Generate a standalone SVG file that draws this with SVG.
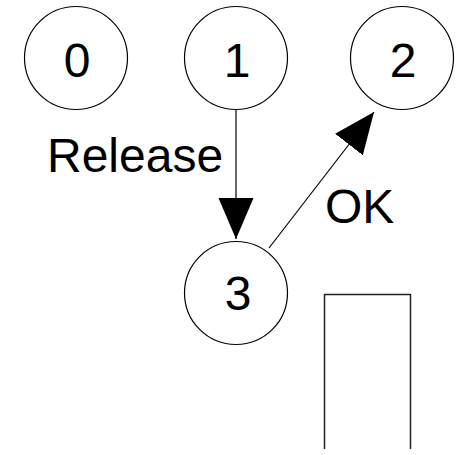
<svg xmlns="http://www.w3.org/2000/svg" width="459" height="455" viewBox="0 0 459 455">
<style>
.node circle{fill:none;stroke:#000;stroke-width:1.2}
text{font-family:"Liberation Sans",Arial,sans-serif;font-size:48px;fill:#000}
.num{text-anchor:middle}
.edge{stroke:#000;stroke-width:1.2;fill:none}
</style>
<defs>
<marker id="ah" markerUnits="userSpaceOnUse" markerWidth="42" markerHeight="36" refX="41" refY="17.5" orient="auto" viewBox="0 0 42 36">
<path d="M0,0 L41,17.5 L0,35 z" fill="#000"/>
</marker>
</defs>
<rect width="459" height="455" fill="#fff"/>
<g id="n0" class="node"><circle cx="76" cy="58" r="51.5"/><text class="num" x="77" y="77">0</text></g>
<g id="n1" class="node"><circle cx="236" cy="58" r="51.5"/><text class="num" x="237" y="77">1</text></g>
<g id="n2" class="node"><circle cx="402" cy="58" r="51.5"/><text class="num" x="403" y="77">2</text></g>
<g id="n3" class="node"><circle cx="236" cy="293" r="51.5"/><text class="num" x="238" y="310">3</text></g>
<g id="edges">
<line class="edge" x1="236" y1="110" x2="236" y2="239" marker-end="url(#ah)"/>
<line class="edge" x1="269" y1="248" x2="374" y2="112" marker-end="url(#ah)"/>
<text x="47" y="172">Release</text>
<text x="325" y="223">OK</text>
</g>
<path d="M324.5,449 V294.5 H410.5 V449" fill="none" stroke="#222" stroke-width="1.5"/>
</svg>
